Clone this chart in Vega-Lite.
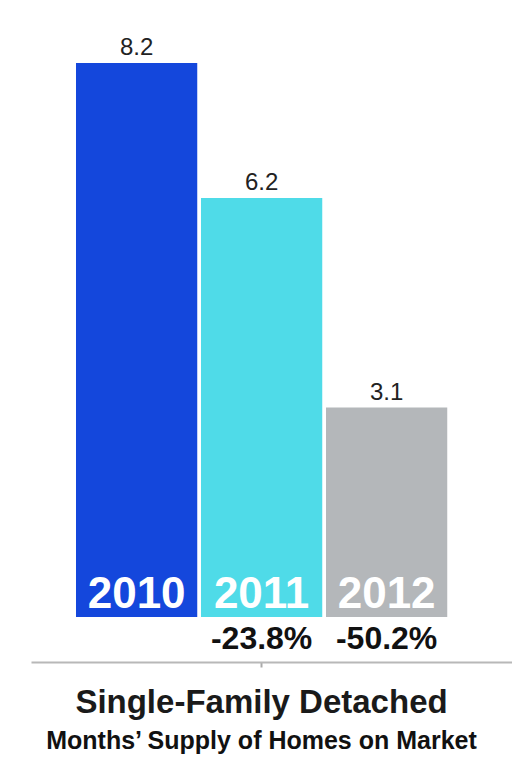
{
  "$schema": "https://vega.github.io/schema/vega-lite/v6.json",
  "width": 481,
  "height": 599,
  "autosize": {"type": "none"},
  "padding": {"left": 31, "top": 63, "right": 0, "bottom": 106},
  "background": "white",
  "config": {"view": {"stroke": null}, "font": "Liberation Sans"},
  "title": {
    "text": "Single-Family Detached",
    "subtitle": "Months’ Supply of Homes on Market",
    "orient": "bottom",
    "anchor": "middle",
    "dx": -10,
    "offset": 19,
    "font": "Liberation Sans",
    "fontSize": 33,
    "fontWeight": "bold",
    "color": "#1a1a1a",
    "subtitleFont": "Liberation Sans",
    "subtitleFontSize": 25,
    "subtitleFontWeight": "bold",
    "subtitleColor": "#111",
    "subtitlePadding": 9
  },
  "data": {
    "values": [
      {"year": "2010", "supply": 8.2, "label": "8.2", "change": ""},
      {"year": "2011", "supply": 6.2, "label": "6.2", "change": "-23.8%"},
      {"year": "2012", "supply": 3.1, "label": "3.1", "change": "-50.2%"}
    ]
  },
  "encoding": {
    "x": {
      "field": "year",
      "type": "nominal",
      "sort": null,
      "scale": {"paddingInner": 0.03, "paddingOuter": 0.439, "align": 0.41},
      "axis": {
        "title": null,
        "labels": false,
        "values": ["2011"],
        "domain": true,
        "domainColor": "#b8b8b8",
        "domainWidth": 2,
        "tickColor": "#aaaaaa",
        "tickSize": 5,
        "tickWidth": 2
      }
    }
  },
  "layer": [
    {
      "mark": {"type": "bar"},
      "encoding": {
        "y": {
          "field": "supply",
          "type": "quantitative",
          "scale": {"domain": [-0.666, 8.2], "nice": false, "zero": false},
          "axis": null
        },
        "y2": {"datum": 0},
        "color": {
          "field": "year",
          "type": "nominal",
          "scale": {"domain": ["2010", "2011", "2012"], "range": ["#1447dc", "#4fdbe8", "#b4b7ba"]},
          "legend": null
        }
      }
    },
    {
      "mark": {"type": "text", "baseline": "alphabetic", "dy": -8, "fontSize": 24, "color": "#222"},
      "encoding": {
        "y": {"field": "supply", "type": "quantitative"},
        "text": {"field": "label"}
      }
    },
    {
      "mark": {"type": "text", "baseline": "alphabetic", "dy": -9, "fontSize": 44, "fontWeight": "bold", "color": "white"},
      "encoding": {
        "y": {"datum": 0},
        "text": {"field": "year"}
      }
    },
    {
      "mark": {"type": "text", "baseline": "alphabetic", "dy": 32, "fontSize": 32, "fontWeight": "bold", "color": "#111"},
      "encoding": {
        "y": {"datum": 0},
        "text": {"field": "change"}
      }
    }
  ]
}
